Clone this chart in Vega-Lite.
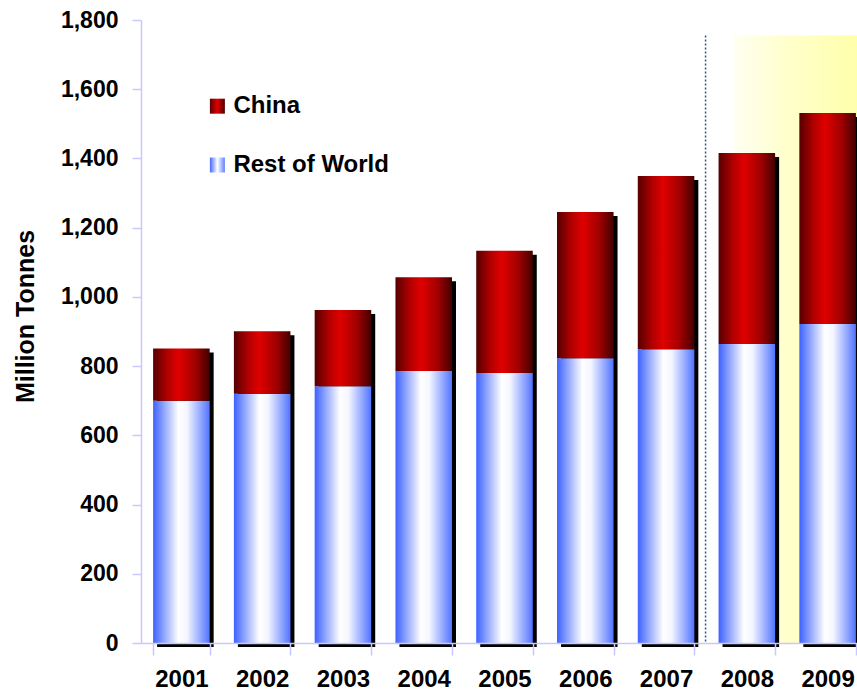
{
  "$schema": "https://vega.github.io/schema/vega-lite/v6.json",
  "autosize": "none",
  "width": 716,
  "height": 623,
  "padding": {"left": 141, "top": 20, "right": 0, "bottom": 50},
  "background": "white",
  "config": {
    "view": {"stroke": null},
    "font": "Liberation Sans",
    "axis": {"labelFont": "Liberation Sans", "titleFont": "Liberation Sans", "labelFontWeight": "bold", "titleFontWeight": "bold", "labelColor": "black", "titleColor": "black"}
  },
  "datasets": {
    "prod": [
      {"year": "2001", "rest": 700, "total": 851},
      {"year": "2002", "rest": 720, "total": 901},
      {"year": "2003", "rest": 742, "total": 962},
      {"year": "2004", "rest": 786, "total": 1057},
      {"year": "2005", "rest": 780, "total": 1133},
      {"year": "2006", "rest": 823, "total": 1245},
      {"year": "2007", "rest": 849, "total": 1349},
      {"year": "2008", "rest": 864, "total": 1416},
      {"year": "2009", "rest": 922, "total": 1531}
    ],
    "highlight": [{"start": "2008", "end": "2009", "top": 1755}],
    "legend": [
      {"year": "2001", "label": "China", "pos": 1551},
      {"year": "2001", "label": "Rest of World", "pos": 1381}
    ]
  },
  "encoding": {
    "x": {
      "field": "year", "type": "ordinal",
      "scale": {"domain": ["2001","2002","2003","2004","2005","2006","2007","2008","2009"], "range": [0, 727], "paddingInner": 0.3, "paddingOuter": 0.15},
      "axis": {"title": null, "labelAngle": 0, "labelFontSize": 24, "labelPadding": 12, "tickBand": "extent", "tickSize": 12, "tickColor": "#c8c8ff", "domainColor": "#c8c8ff", "tickWidth": 1.5, "domainWidth": 1.5}
    }
  },
  "layer": [
    {
      "data": {"name": "highlight"},
      "mark": {"type": "rect", "x2Offset": 40, "xOffset": -13,
        "color": {"gradient": "linear", "x1": 0, "y1": 0, "x2": 1, "y2": 0, "stops": [{"offset": 0, "color": "#fffff2"}, {"offset": 0.4, "color": "#ffffcc"}, {"offset": 1, "color": "#ffffa6"}]}},
      "encoding": {
        "x": {"field": "start", "type": "ordinal"},
        "x2": {"field": "end"},
        "y": {"field": "top", "type": "quantitative"},
        "y2": {"datum": 0}
      }
    },
    {
      "data": {"name": "highlight"},
      "mark": {"type": "rule", "xOffset": -13, "color": "#2a5a8a", "strokeDash": [2, 2], "strokeWidth": 1.5},
      "encoding": {
        "x": {"field": "start", "type": "ordinal", "bandPosition": 0},
        "y": {"field": "top", "type": "quantitative"},
        "y2": {"datum": 0}
      }
    },
    {
      "data": {"name": "prod"},
      "mark": {"type": "bar", "color": "black", "xOffset": 4, "x2Offset": 4, "yOffset": 4, "y2Offset": 4},
      "encoding": {
        "y": {"field": "total", "type": "quantitative",
          "scale": {"domain": [0, 1800], "nice": false},
          "axis": {"title": "Million Tonnes", "titleFontSize": 25, "titlePadding": 22, "titleY": 296, "values": [0,200,400,600,800,1000,1200,1400,1600,1800], "format": ",d", "labelFontSize": 23, "labelPadding": 14, "tickSize": 9, "tickColor": "#c8c8ff", "domainColor": "#c8c8ff", "tickWidth": 1.5, "domainWidth": 1.5, "grid": false}}
      }
    },
    {
      "data": {"name": "prod"},
      "mark": {"type": "bar",
        "color": {"gradient": "linear", "x1": 0, "y1": 0, "x2": 1, "y2": 0, "stops": [{"offset": 0, "color": "#3d62ff"}, {"offset": 0.45, "color": "#ffffff"}, {"offset": 0.6, "color": "#f4f6ff"}, {"offset": 1, "color": "#5274ff"}]}},
      "encoding": {
        "y": {"field": "rest", "type": "quantitative"}
      }
    },
    {
      "data": {"name": "prod"},
      "mark": {"type": "bar",
        "color": {"gradient": "linear", "x1": 0, "y1": 0, "x2": 1, "y2": 0, "stops": [{"offset": 0, "color": "#550000"}, {"offset": 0.25, "color": "#b00000"}, {"offset": 0.45, "color": "#e00000"}, {"offset": 0.75, "color": "#a00000"}, {"offset": 1, "color": "#420000"}]}},
      "encoding": {
        "y": {"field": "rest", "type": "quantitative"},
        "y2": {"field": "total"}
      }
    },
    {
      "data": {"name": "legend"},
      "transform": [{"filter": "datum.label === 'China'"}],
      "mark": {"type": "square", "size": 225, "opacity": 1, "filled": true, "xOffset": 36, "strokeWidth": 0,
        "color": {"gradient": "linear", "x1": 0, "y1": 0, "x2": 1, "y2": 0, "stops": [{"offset": 0, "color": "#600000"}, {"offset": 0.5, "color": "#dd0000"}, {"offset": 1, "color": "#500000"}]}},
      "encoding": {
        "y": {"field": "pos", "type": "quantitative"}
      }
    },
    {
      "data": {"name": "legend"},
      "transform": [{"filter": "datum.label === 'Rest of World'"}],
      "mark": {"type": "square", "size": 225, "opacity": 1, "filled": true, "xOffset": 36, "strokeWidth": 0,
        "color": {"gradient": "linear", "x1": 0, "y1": 0, "x2": 1, "y2": 0, "stops": [{"offset": 0, "color": "#4466ff"}, {"offset": 0.5, "color": "#ffffff"}, {"offset": 1, "color": "#6080ff"}]}},
      "encoding": {
        "y": {"field": "pos", "type": "quantitative"}
      }
    },
    {
      "data": {"name": "legend"},
      "mark": {"type": "text", "align": "left", "baseline": "middle", "xOffset": 52, "fontSize": 24, "fontWeight": "bold", "color": "black", "font": "Liberation Sans"},
      "encoding": {
        "y": {"field": "pos", "type": "quantitative"},
        "text": {"field": "label"}
      }
    }
  ]
}
